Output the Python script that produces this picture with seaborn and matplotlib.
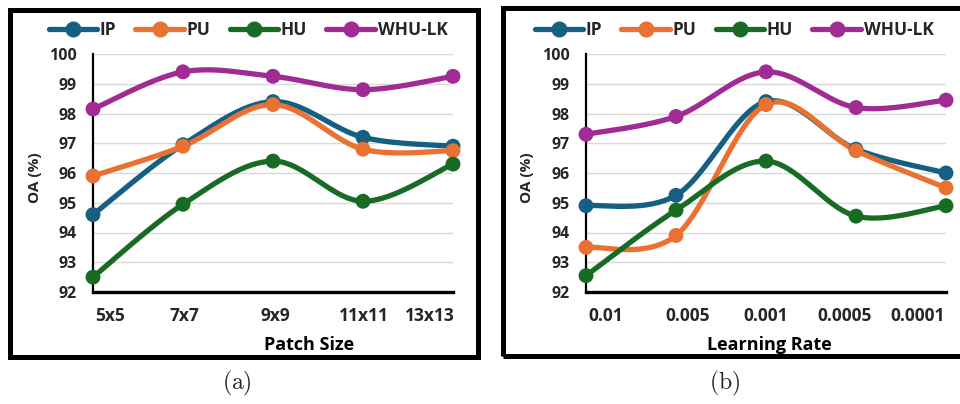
import numpy as np
import pandas as pd
import matplotlib
matplotlib.use("Agg")
import matplotlib.pyplot as plt
from matplotlib.lines import Line2D
from matplotlib.patches import Rectangle
from matplotlib.transforms import ScaledTranslation
import seaborn as sns

# ---- data -------------------------------------------------------------
datasets = ["IP", "PU", "HU", "WHU-LK"]
colors = ["#156082", "#E97132", "#196B24", "#A02B93"]

patch_sizes = ["5x5", "7x7", "9x9", "11x11", "13x13"]
patch_ip = [94.6, 96.95, 98.4, 97.2, 96.9]
patch_pu = [95.9, 96.9, 98.3, 96.8, 96.75]
patch_hu = [92.5, 94.95, 96.4, 95.05, 96.3]
patch_whu = [98.15, 99.4, 99.25, 98.8, 99.25]

learning_rates = ["0.01", "0.005", "0.001", "0.0005", "0.0001"]
lr_ip = [94.9, 95.25, 98.4, 96.8, 96.0]
lr_pu = [93.5, 93.9, 98.3, 96.75, 95.5]
lr_hu = [92.55, 94.75, 96.4, 94.55, 94.9]
lr_whu = [97.3, 97.9, 99.4, 98.2, 98.45]

y_ticks = [92, 93, 94, 95, 96, 97, 98, 99, 100]

FONT = "Open Sans"


def smooth_curve(values, steps=40):
    """Cubic Bezier smoothing through the points (office-style smoothed line)."""
    pts = np.column_stack([np.arange(len(values), dtype=float), np.asarray(values, float)])
    n = len(pts)
    out = []
    t = np.linspace(0, 1, steps)[:, None]
    for i in range(n - 1):
        p0, p3 = pts[i], pts[i + 1]
        prev = pts[i - 1] if i > 0 else pts[i]
        nxt = pts[i + 2] if i + 2 < n else pts[i + 1]
        c1 = p0 + (p3 - prev) / 6.0
        c2 = p3 - (nxt - p0) / 6.0
        seg = ((1 - t) ** 3) * p0 + 3 * ((1 - t) ** 2) * t * c1 + 3 * (1 - t) * t ** 2 * c2 + t ** 3 * p3
        out.append(seg if i == 0 else seg[1:])
    return np.vstack(out)


def long_frame(series):
    rows_line, rows_pts = [], []
    for name, vals in zip(datasets, series):
        curve = smooth_curve(vals)
        for k, (x, y) in enumerate(curve):
            rows_line.append({"dataset": name, "x": x, "y": y, "order": k})
        for x, y in enumerate(vals):
            rows_pts.append({"dataset": name, "x": x, "y": y})
    return pd.DataFrame(rows_line), pd.DataFrame(rows_pts)


sns.set_theme(style="white")
plt.rcParams["font.family"] = [FONT, "DejaVu Sans"]
plt.rcParams["font.weight"] = "bold"

fig = plt.figure(figsize=(9.6, 4.04), dpi=100)
W, H = 960.0, 404.0


def px_axes(left, right, top, bottom):
    return fig.add_axes([left / W, 1 - bottom / H, (right - left) / W, (bottom - top) / H])


panels = [
    dict(ax=px_axes(93, 453, 54, 292), series=[patch_ip, patch_pu, patch_hu, patch_whu],
         labels=patch_sizes, label_shift=[17, 1, 2, 1, -23],
         xlabel="Patch Size", xlabel_x=0.60, leg_x=248, ylab_x=35,
         frame=(9.5, 9.5, 477.5, 356.5), cap="(a)", cap_x=237),
    dict(ax=px_axes(586, 946, 54, 292), series=[lr_ip, lr_pu, lr_hu, lr_whu],
         labels=learning_rates, label_shift=[20, 12, 0, -11, -28],
         xlabel="Learning Rate", xlabel_x=0.51, leg_x=734, ylab_x=527,
         frame=(502.5, 7.5, 968, 355.5), cap="(b)", cap_x=725),
]

palette = dict(zip(datasets, colors))

for p in panels:
    ax = p["ax"]
    df_line, df_pts = long_frame(p["series"])
    sns.lineplot(data=df_line, x="x", y="y", hue="dataset", palette=palette, units="dataset",
                 estimator=None, sort=False, linewidth=3.8, legend=False, ax=ax, clip_on=False,
                 solid_capstyle="round")
    sns.scatterplot(data=df_pts, x="x", y="y", hue="dataset", palette=palette, s=115,
                    edgecolor="none", legend=False, ax=ax, clip_on=False, zorder=5)

    ax.set_xlim(0, 4)
    ax.set_ylim(92, 100)
    ax.set_yticks(y_ticks)
    ax.set_yticklabels([str(v) for v in y_ticks], fontsize=11.5, fontweight="bold")
    ax.set_xticks(range(len(p["labels"])))
    ax.set_xticklabels(p["labels"], fontsize=12.5, fontweight="bold")
    ax.tick_params(axis="both", length=0)
    ax.tick_params(axis="y", pad=12)
    ax.tick_params(axis="x", pad=11)
    # edge category labels are pulled inward so they stay inside the plot width
    for lab, dx in zip(ax.get_xticklabels(), p["label_shift"]):
        lab.set_transform(lab.get_transform() + ScaledTranslation(dx / 100, 0, fig.dpi_scale_trans))

    ax.grid(axis="y", color="#D9D9D9", linewidth=1.0)
    ax.grid(axis="x", visible=False)
    ax.set_axisbelow(True)
    for side in ("top", "right"):
        ax.spines[side].set_visible(False)
    ax.spines["left"].set_color("black")
    ax.spines["left"].set_linewidth(1.6)
    ax.spines["bottom"].set_color("black")
    ax.spines["bottom"].set_linewidth(2.4)

    ax.set_xlabel(p["xlabel"], fontsize=13, fontweight="bold", color="black")
    ax.xaxis.set_label_coords(p["xlabel_x"], -0.185)
    ax.set_ylabel("")
    fig.text(p["ylab_x"] / W, 1 - 178 / H, "OA (%)", rotation=90, fontsize=11,
             fontweight="bold", ha="center", va="center")

    handles = [Line2D([0], [0], color=c, lw=3.8, marker="o", markersize=10.5,
                      solid_capstyle="round") for c in colors]
    fig.legend(handles, datasets, loc="center", bbox_to_anchor=(p["leg_x"] / W, 1 - 30 / H),
               ncol=4, frameon=False, handlelength=2.8, handletextpad=0.15,
               columnspacing=1.1, prop={"family": FONT, "weight": "bold", "size": 12.5})

    x0, y0, x1, y1 = p["frame"]
    fig.add_artist(Rectangle((x0 / W, 1 - y1 / H), (x1 - x0) / W, (y1 - y0) / H,
                             transform=fig.transFigure, fill=False, edgecolor="black",
                             linewidth=3.6))

    fig.text(p["cap_x"] / W, 1 - 383 / H, r"$\mathrm{" + p["cap"] + "}$", fontsize=17,
             ha="center", va="center", math_fontfamily="cm")

fig.savefig("out.png", dpi=100)
